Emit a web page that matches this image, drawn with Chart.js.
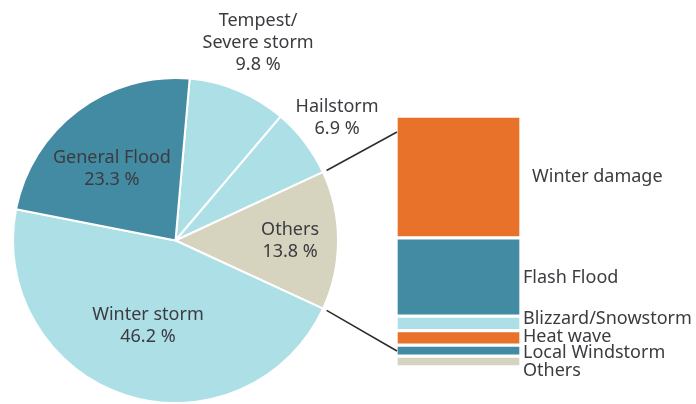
<!DOCTYPE html>
<html><head><meta charset="utf-8">
<script src="https://cdn.jsdelivr.net/npm/chart.js@4"></script>
<style>
html,body{margin:0;padding:0;background:#fff;}
#wrap{position:relative;width:696px;height:404px;overflow:hidden;}
canvas{position:absolute;left:0;top:0;}
</style></head><body>
<div id="wrap"><canvas id="pie" width="696" height="404"></canvas><canvas id="bar" width="696" height="404"></canvas></div>
<script>
// ---- data ----
const pieCategories = ["Tempest/\nSevere storm", "Hailstorm", "Others", "Winter storm", "General Flood"];
const pieValues = [9.8, 6.9, 13.8, 46.2, 23.3];
const barCategories = ["Winter damage", "Flash Flood", "Blizzard/Snowstorm", "Heat wave", "Local Windstorm", "Others"];
const barValues = [6.7, 4.3, 0.8, 0.8, 0.6, 0.6];

// ---- styles ----
const TEAL = '#438BA3', LIGHT = '#ADDFE6', BEIGE = '#D6D3BE', ORANGE = '#E8722A';
const pieColors = [LIGHT, LIGHT, BEIGE, LIGHT, TEAL];
const barColors = [ORANGE, TEAL, LIGHT, ORANGE, TEAL, BEIGE];
const TEXT = '#3b3b40';
const FONT = '18px "Noto Sans"';
const pieLabelPlace = [
  {f: 1.32, dx: 0, dy: 0},
  {f: 1.25, dx: 0, dy: 0},
  {f: 0.705, dx: 0, dy: 0},
  {f: 0.55, dx: 0, dy: 0},
  {f: 0.59, dx: -6, dy: 5}
];
const barLabelPlace = [
  {dx: 11, dy: 0}, {dx: 2, dy: 1}, {dx: 2, dy: -4}, {dx: 2, dy: -1}, {dx: 2, dy: 2}, {dx: 2, dy: 9}
];

const pieLabels = {
  id: 'pieLabels',
  afterDatasetsDraw(chart) {
    const ctx = chart.ctx;
    const meta = chart.getDatasetMeta(0);
    ctx.save();
    ctx.font = FONT; ctx.fillStyle = TEXT; ctx.textAlign = 'center'; ctx.textBaseline = 'middle';
    meta.data.forEach((arc, i) => {
      const p = arc.getProps(['x', 'y', 'startAngle', 'endAngle', 'outerRadius'], true);
      const a = (p.startAngle + p.endAngle) / 2;
      const pl = pieLabelPlace[i];
      const cx = p.x + Math.cos(a) * p.outerRadius * pl.f + pl.dx;
      const cy = p.y + Math.sin(a) * p.outerRadius * pl.f + pl.dy;
      const lines = pieCategories[i].split('\n').concat([pieValues[i].toFixed(1) + ' %']);
      const lh = 22;
      lines.forEach((t, k) => ctx.fillText(t, cx, cy + (k - (lines.length - 1) / 2) * lh));
    });
    ctx.restore();
  }
};

const pieChart = new Chart(document.getElementById('pie'), {
  type: 'pie',
  data: {
    labels: pieCategories.map(s => s.replace('\n', ' ')),
    datasets: [{data: pieValues, backgroundColor: pieColors, borderColor: '#ffffff', borderWidth: 2}]
  },
  options: {
    responsive: false, animation: false, rotation: 5,
    layout: {padding: {left: 12, top: 77, right: 357, bottom: 0}},
    plugins: {legend: {display: false}, tooltip: {enabled: false}}
  },
  plugins: [pieLabels]
});

const barDecor = {
  id: 'barDecor',
  afterDatasetsDraw(chart) {
    const ctx = chart.ctx;
    const n = barCategories.length;
    // datasets are stored bottom-to-top; category i (top-to-bottom) is dataset n-1-i
    const els = barCategories.map((c, i) => chart.getDatasetMeta(n - 1 - i).data[0].getProps(['x', 'y', 'base', 'width'], true));
    const bw = 2;
    const top = els[0].y + bw, bottom = els[n - 1].base - bw;
    const left = els[0].x - els[0].width / 2 + 1, right = els[0].x + els[0].width / 2;
    // connectors from the "Others" pie slice
    const arc = pieChart.getDatasetMeta(0).data[2].getProps(['x', 'y', 'startAngle', 'endAngle', 'outerRadius'], true);
    const R = arc.outerRadius + 4;
    ctx.save();
    ctx.strokeStyle = '#2e2e2e'; ctx.lineWidth = 1.6;
    ctx.beginPath();
    ctx.moveTo(arc.x + Math.cos(arc.startAngle) * R, arc.y + Math.sin(arc.startAngle) * R);
    ctx.lineTo(left, top + 14);
    ctx.moveTo(arc.x + Math.cos(arc.endAngle) * R, arc.y + Math.sin(arc.endAngle) * R);
    ctx.lineTo(left, bottom - 14);
    ctx.stroke();
    // labels
    ctx.font = FONT; ctx.fillStyle = TEXT; ctx.textAlign = 'left'; ctx.textBaseline = 'middle';
    els.forEach((e, i) => {
      const cy = (e.y + e.base) / 2 + barLabelPlace[i].dy;
      ctx.fillText(barCategories[i], right + barLabelPlace[i].dx, cy);
    });
    ctx.restore();
  }
};

const barTotal = barValues.reduce((a, b) => a + b, 0);
new Chart(document.getElementById('bar'), {
  type: 'bar',
  data: {
    labels: ['Others'],
    datasets: barCategories.map((c, i) => ({
      label: c, data: [barValues[i]], backgroundColor: barColors[i],
      borderColor: '#ffffff', borderWidth: 2, borderSkipped: false,
      barPercentage: 1, categoryPercentage: 1
    })).reverse()
  },
  options: {
    responsive: false, animation: false,
    layout: {padding: {left: 396, right: 175, top: 116, bottom: 37}},
    scales: {
      x: {stacked: true, display: false},
      y: {stacked: true, display: false, min: 0, max: barTotal}
    },
    plugins: {legend: {display: false}, tooltip: {enabled: false}}
  },
  plugins: [barDecor]
});
</script>
</body></html>
